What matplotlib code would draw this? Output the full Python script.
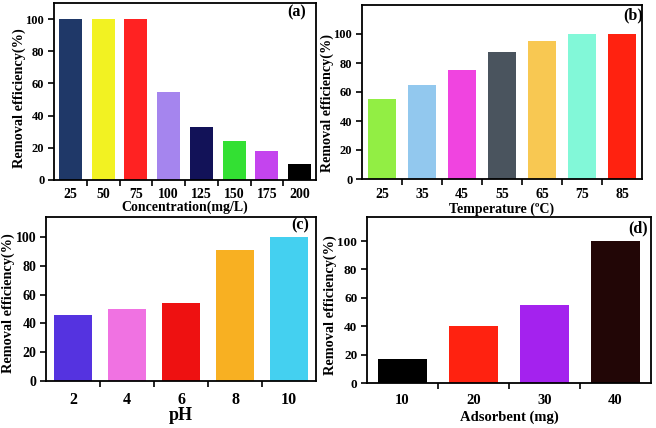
import matplotlib
matplotlib.use('Agg')
import matplotlib.pyplot as plt
import numpy as np
from matplotlib.transforms import blended_transform_factory

# data
conc_labels = ['25', '50', '75', '100', '125', '150', '175', '200']
conc_values = [100, 100, 100, 55, 33, 24, 18, 10]
conc_colors = ['#1f3868', '#f2f222', '#ff2222', '#a585ee', '#121258', '#33e033', '#c444ee', '#000000']

temp_labels = ['25', '35', '45', '55', '65', '75', '85']
temp_values = [55, 65, 75, 87.5, 95, 100, 100]
temp_colors = ['#92ee44', '#92c8ee', '#f044e0', '#4a545e', '#f8c852', '#82f8d8', '#ff2210']

ph_labels = ['2', '4', '6', '8', '10']
ph_values = [46, 50, 54, 91, 100]
ph_colors = ['#5533e0', '#f072e2', '#ee1111', '#f8b022', '#44d0f0']

ads_labels = ['10', '20', '30', '40']
ads_values = [17, 40, 55, 100]
ads_colors = ['#000000', '#ff2210', '#a422ee', '#220606']

W, H = 656, 428
plt.rcParams['font.family'] = ['Liberation Serif', 'DejaVu Serif']
plt.rcParams['font.weight'] = 'bold'

fig = plt.figure(figsize=(W / 100, H / 100), dpi=100)


def make_axes(left, right, top, bottom):
    return fig.add_axes([left / W, 1 - bottom / H, (right - left) / W, (bottom - top) / H])


def panel(ax, labels, values, colors, ytop, xlabel, tag, tag_xy,
          xtick_size, ytick_size, xlabel_size, ylabel_size,
          ylabel_xy, xlabel_y, xtick_y):
    x = np.arange(len(labels))
    ax.bar(x, values, width=0.7, color=colors, edgecolor='none')
    ax.set_xlim(-0.5, len(labels) - 0.5)
    ax.set_ylim(0, ytop)
    ax.set_yticks([0, 20, 40, 60, 80, 100])
    ax.set_xticks(x)
    ax.set_xticklabels([])
    ax.set_xticks(x[:-1] + 0.5, minor=True)
    ax.tick_params(axis='x', which='major', length=0)
    ax.tick_params(axis='x', which='minor', length=4, width=1.2, direction='out')
    ax.tick_params(axis='y', length=4, width=1.2, direction='out', labelsize=ytick_size, pad=3)
    for lab in ax.get_yticklabels():
        lab.set_fontweight('bold')
    # x tick labels at a fixed pixel row under each bar
    trans = blended_transform_factory(ax.transData, fig.transFigure)
    for xi, lab in zip(x, labels):
        ax.text(xi, 1 - xtick_y / H, lab, transform=trans, ha='center', va='center',
                fontsize=xtick_size, fontweight='bold')
    for s in ax.spines.values():
        s.set_linewidth(1.3)
        s.set_color('black')
    pos = ax.get_position()
    fig.text(0.5 * (pos.x0 + pos.x1), 1 - xlabel_y / H, xlabel, ha='center', va='center',
             fontsize=xlabel_size, fontweight='bold')
    fig.text(ylabel_xy[0] / W, 1 - ylabel_xy[1] / H, 'Removal efficiency(%)', rotation=90,
             ha='center', va='center', fontsize=ylabel_size, fontweight='bold')
    fig.text(tag_xy[0] / W, 1 - tag_xy[1] / H, tag, ha='center', va='center',
             fontsize=11.5, fontweight='bold')


ax_a = make_axes(54, 316, 3, 180)
panel(ax_a, conc_labels, conc_values, conc_colors, 110, 'Concentration(mg/L)', '(a)', (297, 12),
      10, 9, 10, 10.3, (19, 98), 207, 194)

ax_b = make_axes(362, 642, 5, 179)
panel(ax_b, temp_labels, temp_values, temp_colors, 120, 'Temperature (ºC)', '(b)', (633, 15),
      10, 9, 10, 10.2, (327.5, 103), 209, 194)

ax_c = make_axes(46, 316, 217, 381)
panel(ax_c, ph_labels, ph_values, ph_colors, 114, 'pH', '(c)', (300, 225),
      11.5, 10, 13, 10.3, (8, 303), 416, 400)

ax_d = make_axes(367, 651, 217, 383)
panel(ax_d, ads_labels, ads_values, ads_colors, 117, 'Adsorbent (mg)', '(d)', (638, 228),
      10.5, 9.5, 10.5, 10.3, (330, 305), 417, 400)

fig.savefig('out.png', dpi=100)
